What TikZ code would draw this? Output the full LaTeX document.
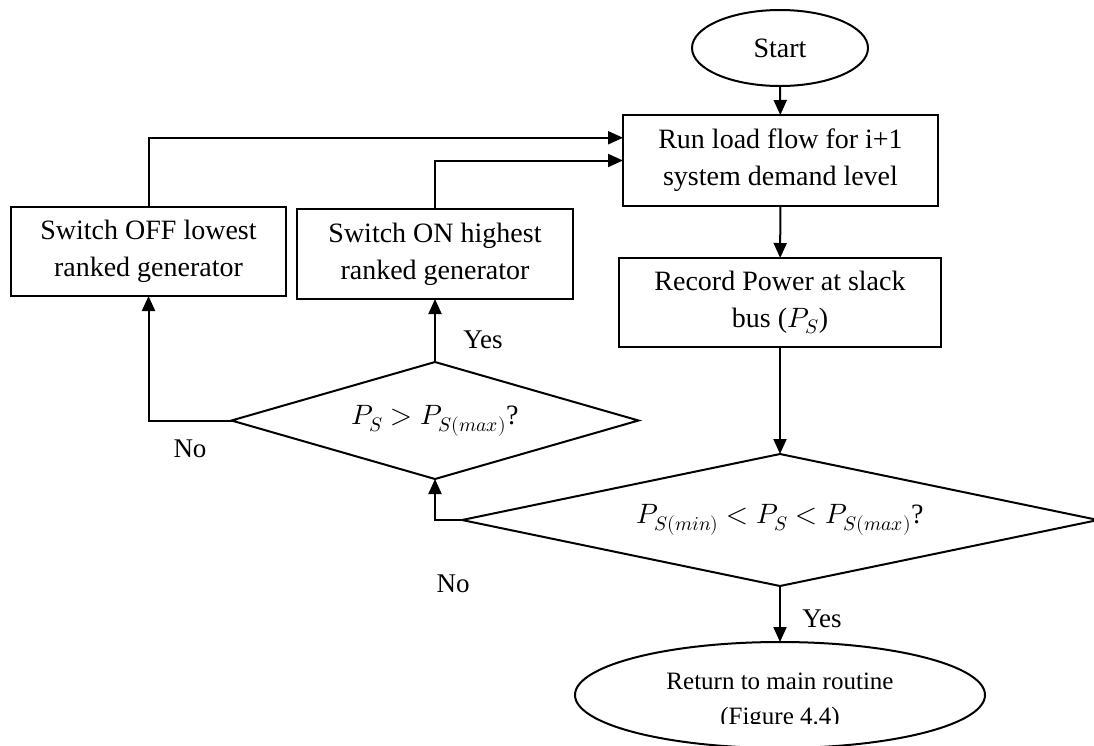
\documentclass[tikz,border=0pt]{standalone}
\usepackage{unicode-math}
\setmainfont{Liberation Serif}
\setmathfont{Latin Modern Math}
\usetikzlibrary{shapes.geometric,arrows.meta,calc}

\begin{document}
\begin{tikzpicture}[x=1pt,y=-1pt,
  line width=2pt,
  every node/.style={inner sep=0pt, outer sep=0pt},
  txt/.style={font=\fontsize{28}{37}\selectfont, align=center},
  procbox/.style={draw, rectangle, txt},
  terminal/.style={draw, ellipse},
  decision/.style={draw, diamond, txt},
  flow/.style={-{Triangle[length=15pt,width=13pt]}},
  lbl/.style={font=\fontsize{27}{30}\selectfont}]

  \clip (0,0) rectangle (1094,745);

  % terminals and process boxes
  \node[terminal, minimum width=176pt, minimum height=76pt, txt] (start) at (780,48) {Start};
  \node[procbox, minimum width=315pt, minimum height=91pt] (run) at (780.5,160.5)
      {Run load flow for i+1\\system demand level};
  \node[procbox, minimum width=322pt, minimum height=89pt] (rec) at (780,302.5)
      {Record Power at slack\\bus ($P_S$)};
  \node[procbox, minimum width=275pt, minimum height=89pt] (off) at (148.5,251.5)
      {Switch OFF lowest\\ranked generator};
  \node[procbox, minimum width=276pt, minimum height=90pt] (on) at (435,254)
      {Switch ON highest\\ranked generator};

  % decisions
  \node[decision, aspect=3.48, minimum width=407pt, minimum height=117pt] (d1) at (435,420.5)
      {$P_S > P_{S(max)}$?};
  \node[decision, aspect=4.8, minimum width=636pt, minimum height=132pt] (d2) at (780,520)
      {$P_{S(min)} < P_S < P_{S(max)}$?};

  % end terminal
  \node[terminal, minimum width=410pt, minimum height=106pt] (ret) at (780,695) {};
  \begin{scope}
    \clip (0,0) rectangle (1094,723);
    \node[font=\fontsize{25}{35}\selectfont, align=center] (rettext) at (780,701)
        {Return to main routine\\(Figure 4.4)};
  \end{scope}

  % upper entry point on the left side of the load-flow box
  \coordinate (runin) at ($(run.north west)!0.25!(run.south west)$);

  % connectors
  \draw[flow] (start) -- (run);
  \draw[flow] (run) -- (rec);
  \draw[flow] (rec) -- (d2.north);
  \draw[flow] (d2.south) -- (ret.north);
  \draw[flow] (d2.west) -| (d1.south);
  \draw[flow] (d1.west) -| (off.south);
  \draw[flow] (d1.north) -- (on.south);
  \draw[flow] (off.north) |- (runin);
  \draw[flow] (on.north) |- (run.west);

  % branch labels
  \node[lbl] (yes1) at (483,340) {Yes};
  \node[lbl] (no1) at (190,449) {No};
  \node[lbl] (no2) at (453,584) {No};
  \node[lbl] (yes2) at (822,619) {Yes};
\end{tikzpicture}
\end{document}
